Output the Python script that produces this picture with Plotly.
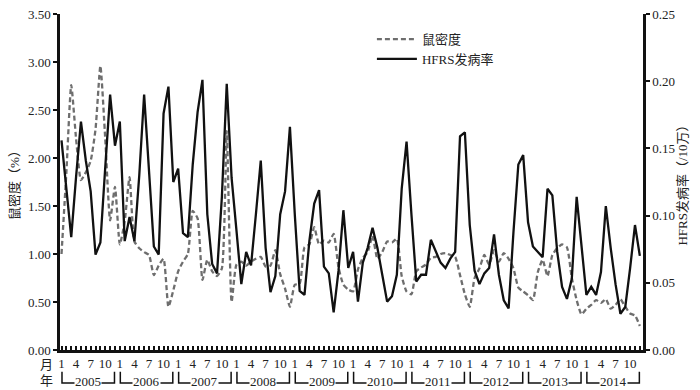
import plotly.graph_objects as go

years = list(range(2005, 2015))
months_per_year = 12
labeled_months = [1, 4, 7, 10]

# 鼠密度 (%) monthly, 2005-01 .. 2014-12
rat_density = [
    1.00, 1.85, 2.76, 2.20, 1.77, 1.85, 1.97, 2.30, 2.96, 2.20, 1.35, 1.70,
    1.10, 1.34, 1.80, 1.13, 1.06, 1.02, 0.99, 0.78, 0.88, 0.95, 0.45, 0.62,
    0.82, 0.92, 1.00, 1.45, 1.37, 0.73, 0.94, 0.82, 0.77, 0.85, 2.28, 0.50,
    0.89, 0.92, 0.88, 0.92, 0.95, 0.97, 0.87, 0.88, 1.04, 0.79, 0.64, 0.45,
    0.68, 0.69, 1.07, 1.10, 1.28, 1.10, 1.14, 1.12, 1.21, 0.86, 0.68, 0.63,
    0.61, 0.84, 0.96, 1.02, 1.19, 0.95, 1.02, 1.13, 1.12, 1.16, 0.77, 0.61,
    0.58, 0.82, 0.86, 0.89, 0.96, 0.97, 1.00, 1.01, 0.99, 0.97, 0.78, 0.58,
    0.45, 0.75, 0.85, 0.99, 0.89, 1.04, 0.92, 1.01, 0.95, 0.85, 0.65, 0.61,
    0.57, 0.52, 0.81, 0.94, 0.77, 0.99, 1.06, 1.10, 1.07, 0.75, 0.52, 0.37,
    0.43, 0.47, 0.52, 0.49, 0.53, 0.43, 0.47, 0.53, 0.45, 0.38, 0.36, 0.25,
]

# HFRS发病率 (/10万) monthly, 2005-01 .. 2014-12
hfrs_rate = [
    0.156, 0.120, 0.084, 0.129, 0.170, 0.141, 0.118, 0.071, 0.080, 0.136, 0.190, 0.152,
    0.170, 0.081, 0.099, 0.081, 0.130, 0.190, 0.135, 0.077, 0.071, 0.176, 0.196, 0.125,
    0.135, 0.087, 0.084, 0.138, 0.177, 0.201, 0.101, 0.064, 0.057, 0.114, 0.198, 0.128,
    0.089, 0.049, 0.073, 0.063, 0.101, 0.141, 0.076, 0.043, 0.055, 0.101, 0.118, 0.166,
    0.101, 0.044, 0.041, 0.081, 0.109, 0.119, 0.062, 0.057, 0.028, 0.059, 0.104, 0.061,
    0.073, 0.036, 0.065, 0.076, 0.091, 0.076, 0.056, 0.036, 0.040, 0.056, 0.120, 0.155,
    0.101, 0.051, 0.056, 0.056, 0.082, 0.073, 0.065, 0.061, 0.068, 0.073, 0.159, 0.162,
    0.093, 0.059, 0.049, 0.057, 0.061, 0.086, 0.056, 0.037, 0.031, 0.088, 0.138, 0.145,
    0.095, 0.077, 0.073, 0.069, 0.120, 0.115, 0.073, 0.047, 0.038, 0.053, 0.114, 0.076,
    0.041, 0.047, 0.041, 0.058, 0.107, 0.076, 0.049, 0.027, 0.032, 0.061, 0.093, 0.070,
]

left_ticks = [0.0, 0.5, 1.0, 1.5, 2.0, 2.5, 3.0, 3.5]
right_ticks = [0.0, 0.05, 0.10, 0.15, 0.20, 0.25]

n = len(years) * months_per_year
x = list(range(1, n + 1))
tickvals = x
ticktext = []
for y in years:
    for m in range(1, months_per_year + 1):
        ticktext.append(str(m) if m in labeled_months else "")

FONT = "Liberation Serif, 'Noto Sans CJK SC', serif"

fig = go.Figure()
fig.add_trace(go.Scatter(
    x=x, y=rat_density, name="鼠密度", mode="lines",
    line=dict(color="#6e6e6e", width=2.3, dash="5px,3px", shape="spline", smoothing=0.5),
))
fig.add_trace(go.Scatter(
    x=x, y=hfrs_rate, name="HFRS发病率", mode="lines", yaxis="y2",
    line=dict(color="#111111", width=2.3),
))

fig.update_layout(
    width=700, height=390,
    margin=dict(l=60, r=57, t=14, b=40, autoexpand=False),
    paper_bgcolor="white", plot_bgcolor="white",
    font=dict(family=FONT, size=13, color="#222"),
    showlegend=True,
    legend=dict(x=0.535, y=0.97, xanchor="left", yanchor="top",
                bgcolor="rgba(0,0,0,0)", font=dict(size=13, family=FONT),
                tracegroupgap=2, itemwidth=40),
    xaxis=dict(
        range=[0.69, 120.65], tickmode="array", tickvals=tickvals, ticktext=ticktext,
        ticks="inside", ticklen=4, tickwidth=1.5, tickcolor="#111",
        showline=True, linecolor="#111", linewidth=2.5, showgrid=False, zeroline=False,
        tickangle=0, tickfont=dict(size=13, family=FONT), automargin=False,
    ),
    yaxis=dict(
        range=[0, 3.5], tickmode="array", tickvals=left_ticks,
        ticktext=[f"{v:.2f}" for v in left_ticks],
        ticks="outside", ticklen=4, tickwidth=2, tickcolor="#111",
        showline=True, linecolor="#111", linewidth=2.5, showgrid=False, zeroline=False,
        title=dict(text="鼠密度（%）", font=dict(size=13, family=FONT), standoff=6),
        tickfont=dict(size=13, family=FONT), automargin=False,
    ),
    yaxis2=dict(
        range=[0, 0.25], overlaying="y", side="right", tickmode="array",
        tickvals=right_ticks, ticktext=[f"{v:.2f}" for v in right_ticks],
        ticks="outside", ticklen=4, tickwidth=2, tickcolor="#111",
        showline=True, linecolor="#111", linewidth=2.5, showgrid=False, zeroline=False,
        title=dict(text="HFRS发病率（/10万）", font=dict(size=13, family=FONT), standoff=4),
        tickfont=dict(size=13, family=FONT), automargin=False,
    ),
)

# "月" / "年" row labels
fig.add_annotation(text="月", xref="paper", yref="paper", x=-0.024, y=-0.043,
                   showarrow=False, font=dict(size=13, family=FONT), xanchor="center", yanchor="middle")
fig.add_annotation(text="年", xref="paper", yref="paper", x=-0.024, y=-0.092,
                   showarrow=False, font=dict(size=13, family=FONT), xanchor="center", yanchor="middle")

# year brackets
for k, y in enumerate(years):
    x0 = k * months_per_year + 1.1
    x1 = k * months_per_year + 11.9
    fig.add_shape(type="path",
                  path=f"M {x0} -0.065 L {x0} -0.098 L {x1} -0.098 L {x1} -0.065",
                  xref="x", yref="paper", line=dict(color="#111", width=1.5))
    fig.add_annotation(text=str(y), x=(x0 + x1) / 2, xref="x", yref="paper", y=-0.093,
                       showarrow=False, bgcolor="white", borderpad=0,
                       font=dict(size=13, family=FONT), xanchor="center", yanchor="middle")

fig.write_html("out.html", config={"displayModeBar": False},
               post_script="document.body.style.margin='0';document.body.style.padding='0';")
